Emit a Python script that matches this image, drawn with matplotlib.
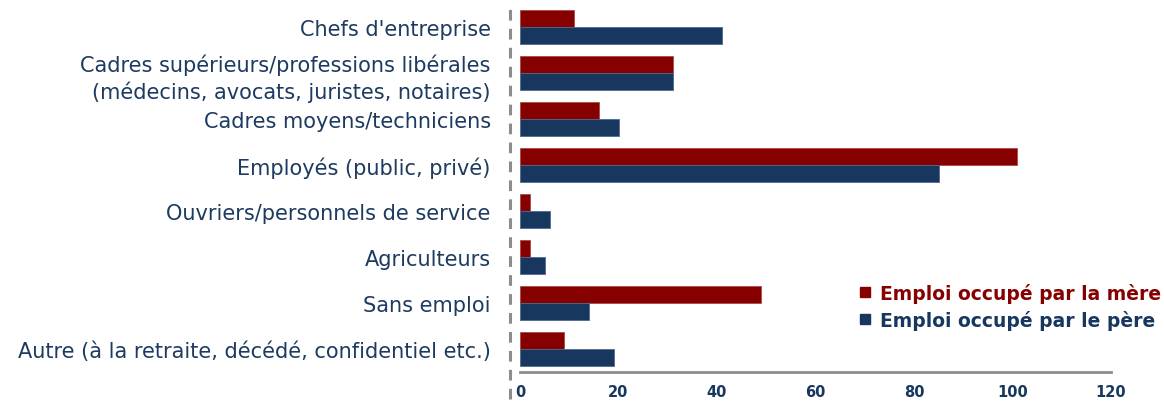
import matplotlib
matplotlib.use("Agg")
import matplotlib.pyplot as plt
from matplotlib.lines import Line2D
import numpy as np

# ----- data -----
categories = [
    "Chefs d'entreprise",
    "Cadres supérieurs/professions libérales\n(médecins, avocats, juristes, notaires)",
    "Cadres moyens/techniciens",
    "Employés (public, privé)",
    "Ouvriers/personnels de service",
    "Agriculteurs",
    "Sans emploi",
    "Autre (à la retraite, décédé, confidentiel etc.)",
]
mere = [11, 31, 16, 101, 2, 2, 49, 9]
pere = [41, 31, 20, 85, 6, 5, 14, 19]
x_ticks = [0, 20, 40, 60, 80, 100, 120]

RED = '#870000'
NAVY = '#17375E'
GRAY = '#8c8c8c'

W, H = 1164, 402
fig = plt.figure(figsize=(W / 100, H / 100), dpi=100)
ax = fig.add_axes([520 / W, (H - 373) / H, (1111 - 520) / W, (373 - 5) / H])

y = np.arange(len(categories))
bh = 0.36
ax.barh(y - bh / 2, mere, height=bh, color=RED, edgecolor='#a84a4a', linewidth=0.6)
ax.barh(y + bh / 2, pere, height=bh, color=NAVY, edgecolor='#4d6a8f', linewidth=0.6)

ax.set_ylim(len(categories) - 0.5, -0.5)
ax.set_xlim(0, 120)
ax.set_yticks(y)
ax.set_yticklabels(categories, fontsize=15, color='#1d3a60', linespacing=1.3)
ax.set_xticks(x_ticks)
ax.set_xticklabels([str(t) for t in x_ticks], fontsize=10.5, fontweight='bold', color=NAVY)
ax.tick_params(axis='y', length=0, pad=21)
ax.tick_params(axis='x', length=0, pad=9)

for s in ['top', 'right', 'left']:
    ax.spines[s].set_visible(False)
ax.spines['bottom'].set_color(GRAY)
ax.spines['bottom'].set_linewidth(2)

# dashed vertical axis line left of the bars
fig.add_artist(Line2D([510 / W, 510 / W], [2 / H, (H - 4) / H], transform=fig.transFigure,
                      color=GRAY, linewidth=2.2, dashes=(3.5, 2.7)))

handles = [
    Line2D([], [], marker='s', linestyle='none', color=RED, markersize=7.5),
    Line2D([], [], marker='s', linestyle='none', color=NAVY, markersize=7.5),
]
leg = fig.legend(handles, ["Emploi occupé par la mère", "Emploi occupé par le père"],
                 loc='upper right', bbox_to_anchor=(1161 / W, (H - 284) / H),
                 frameon=False, handlelength=0.8, handletextpad=0.4, labelspacing=0.35,
                 borderaxespad=0, borderpad=0,
                 prop={'size': 13.5, 'weight': 'bold'})
for txt, c in zip(leg.get_texts(), [RED, NAVY]):
    txt.set_color(c)

fig.savefig('out.png', dpi=100)
